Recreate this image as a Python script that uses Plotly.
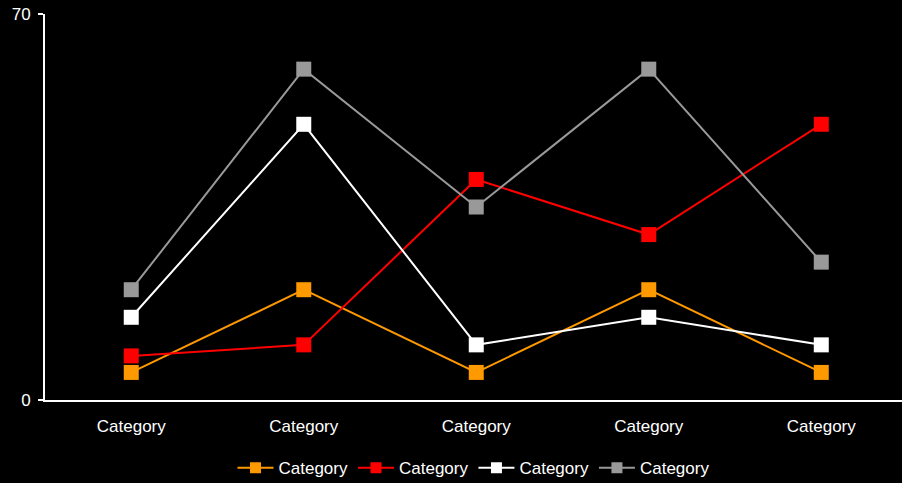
import plotly.graph_objects as go

categories = ["Category", "Category", "Category", "Category", "Category"]
series_names = ["Category", "Category", "Category", "Category"]
orange_vals = [5, 20, 5, 20, 5]
red_vals = [8, 10, 40, 30, 50]
white_vals = [15, 50, 10, 15, 10]
gray_vals = [20, 60, 35, 60, 25]
colors = ["#FF9900", "#FF0000", "#FFFFFF", "#999999"]

x_pos = list(range(len(categories)))
fig = go.Figure()
for name, vals, col in zip(series_names, [orange_vals, red_vals, white_vals, gray_vals], colors):
    fig.add_trace(go.Scatter(
        x=x_pos, y=vals, name=name, mode="lines+markers", showlegend=False,
        line=dict(color=col, width=2),
        marker=dict(symbol="square", size=15, color=col),
    ))
# legend entries with smaller markers
for name, col in zip(series_names, colors):
    fig.add_trace(go.Scatter(
        x=[None], y=[None], name=name, mode="lines+markers", showlegend=True,
        line=dict(color=col, width=2),
        marker=dict(symbol="square", size=11, color=col),
    ))

fig.update_layout(
    width=902, height=483,
    paper_bgcolor="black", plot_bgcolor="black",
    margin=dict(l=45, r=0, t=14, b=83, autoexpand=False),
    font=dict(family="Liberation Sans, Arial, sans-serif", size=17, color="white"),
    showlegend=True,
    legend=dict(orientation="h", x=0.5, xanchor="center", y=-0.13, yanchor="top",
                font=dict(size=17, color="white"), bgcolor="rgba(0,0,0,0)",
                itemwidth=36, tracegroupgap=0),
    xaxis=dict(
        range=[-0.5, 4.468], tickvals=x_pos, ticktext=categories,
        showgrid=False, zeroline=False, showline=True, linecolor="white", linewidth=2,
        ticks="", ticklabelstandoff=10, tickfont=dict(size=17, color="white"),
    ),
    yaxis=dict(
        range=[0, 70], tickvals=[0, 70], showgrid=False, zeroline=False,
        showline=True, linecolor="white", linewidth=2,
        ticks="outside", ticklen=5, tickcolor="white", tickwidth=2,
        ticklabelstandoff=4,
        tickfont=dict(size=17, color="white"),
    ),
)

fig.write_html("out.html")
